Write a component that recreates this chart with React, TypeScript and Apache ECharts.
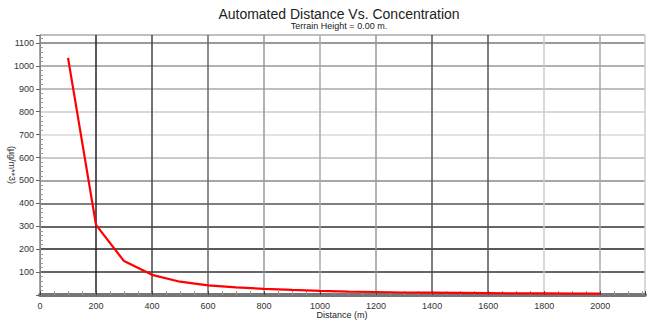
import React, { useEffect, useRef } from "react";
import * as echarts from "echarts";

const distances = [100, 200, 300, 400, 500, 600, 700, 800, 900, 1000, 1100, 1200, 1300, 1400, 1500, 1600, 1700, 1800, 1900, 2000];
const concentrations = [1035, 306, 148, 88, 58, 42, 33, 27, 22, 18, 15, 13, 11, 10, 9, 8, 7, 7, 6, 6];

const titleText = "Automated Distance Vs. Concentration";
const subtitleText = "Terrain Height = 0.00 m.";
const xAxisName = "Distance (m)";
const yAxisName = "(\u00b5g/m**3)";

const hLineColors = ["#888", "#333", "#222", "#333", "#555", "#888", "#bbb", "#d8d8d8", "#ccc", "#aaa", "#999", "#777", "#aaa"];
const vLineColors = ["#888", "#222", "#444", "#666", "#999", "#aaa", "#999", "#555", "#555", "#ccc", "#aaa", "#ccc"];

const FONT = "'Liberation Sans', Arial, sans-serif";

export default function App() {
  const ref = useRef<HTMLDivElement>(null);
  useEffect(() => {
    if (!ref.current) return;
    const chart = echarts.init(ref.current, undefined, { renderer: "svg" });
    const data = distances.map((d, i) => [d, concentrations[i]]);
    chart.setOption({
      animation: false,
      backgroundColor: "#fff",
      textStyle: { fontFamily: FONT },
      graphic: [
        {
          type: "text",
          x: 339,
          y: 14,
          style: { text: titleText, align: "center", verticalAlign: "middle", font: `14px ${FONT}`, fill: "#222" },
        },
        {
          type: "text",
          x: 339,
          y: 26,
          style: { text: subtitleText, align: "center", verticalAlign: "middle", font: `9px ${FONT}`, fill: "#222" },
        },
        {
          type: "text",
          x: 342,
          y: 315,
          style: { text: xAxisName, align: "center", verticalAlign: "middle", font: `9px ${FONT}`, fill: "#222" },
        },
        {
          type: "text",
          x: 12,
          y: 165,
          rotation: -Math.PI / 2,
          style: { text: yAxisName, align: "center", verticalAlign: "middle", font: `9px ${FONT}`, fill: "#333" },
        },
      ],
      grid: { left: 40, right: 7, top: 35, bottom: 27, containLabel: false, outerBoundsMode: "none" },
      xAxis: {
        type: "value",
        min: 0,
        max: 2160,
        interval: 200,
        offset: 2,
        axisLine: { show: true, lineStyle: { color: "#777", width: 4 } },
        axisTick: { show: true, inside: true, length: 4, lineStyle: { color: "#444" } },
        minorTick: { show: true, splitNumber: 4, length: 4, lineStyle: { color: "#999" } },
        axisLabel: {
          fontSize: 9,
          color: "#333",
          margin: 4,
          fontFamily: FONT,
          formatter: (v: number) => (v % 200 === 0 ? String(v) : ""),
        },
        splitLine: { show: true, lineStyle: { color: vLineColors, width: 1.5 } },
      },
      yAxis: [
        {
          type: "value",
          min: 0,
          max: 1135,
          interval: 100,
          axisLine: { show: true, lineStyle: { color: "#888", width: 1 } },
          axisTick: { show: true, inside: false, length: 4, lineStyle: { color: "#666" } },
          axisLabel: {
            fontSize: 9,
            color: "#333",
            margin: 6,
            fontFamily: FONT,
            formatter: (v: number) => (v % 100 === 0 && v > 0 ? String(v) : ""),
          },
          splitLine: { show: true, lineStyle: { color: hLineColors, width: 1.5 } },
        },
        {
          type: "value",
          position: "left",
          min: 0,
          max: 1135,
          interval: 100,
          axisLine: { show: false },
          axisTick: { show: false, inside: true, length: 3 },
          minorTick: { show: true, splitNumber: 5, length: 3, lineStyle: { color: "#999" } },
          axisLabel: { show: false },
          splitLine: { show: false },
        },
      ],
      series: [
        {
          type: "line",
          data,
          yAxisIndex: 0,
          showSymbol: false,
          symbol: "none",
          lineStyle: { color: "#ff0000", width: 2.2 },
          z: 5,
        },
      ],
    });
    return () => chart.dispose();
  }, []);
  return <div ref={ref} style={{ position: "fixed", left: 0, top: 0, width: 652, height: 322 }} />;
}
